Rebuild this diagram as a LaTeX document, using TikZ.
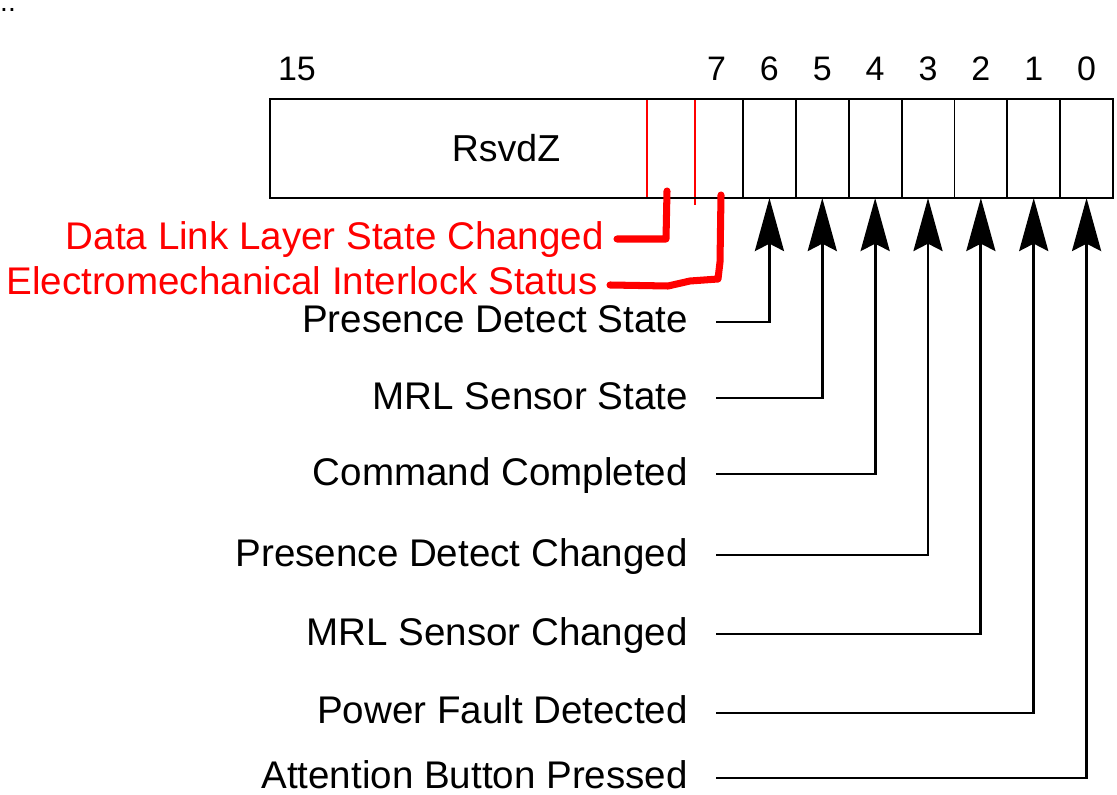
\documentclass[tikz,border=0pt]{standalone}
\usepackage{fontspec}
\setmainfont{Liberation Sans}
\usetikzlibrary{positioning,arrows.meta}

\begin{document}
\begin{tikzpicture}[
        x=0.03cm, y=-0.03cm,
        >={Stealth[length=1.59cm, width=0.87cm, inset=0.22cm]},
        sig/.style={->, line width=2.5pt},
        lbl/.style={anchor=base east, inner sep=0pt, font=\fontsize{32.9}{39}\selectfont},
        redlbl/.style={lbl, text=red},
        bitno/.style={inner sep=0pt, font=\fontsize{29}{34}\selectfont},
        hand/.style={red, line width=6pt, line cap=round, line join=round}
    ]
        \useasboundingbox (0,0) rectangle (1117,795);
        \node[anchor=base west, inner sep=0pt, font=\fontsize{24}{28}\selectfont] (dots) at (0,12) {..};

        % register outline and bit cells
        \coordinate (regnw) at (270,99);
        \coordinate (regse) at (1113,198);
        \foreach \i in {0,...,6} {
            \draw[line width=1.6pt] ({1113-(\i+1)*52.857},99) -- ({1113-(\i+1)*52.857},198);
            \coordinate (b\i) at ({1113-(\i+0.5)*52.857},198);
            \node[bitno] (n\i) at ({1113-(\i+0.5)*52.857},69) {\i};
        }
        \draw[red, line width=1pt] (647,99) -- (647,198);
        \draw[red, line width=1pt] (695,99) -- (695,205);
        \draw[line width=2.5pt] (regnw) rectangle (regse);
        \node[bitno] (n7) at (716.5,69) {7};
        \node[bitno] (n15) at (297,69) {15};
        \node[inner sep=0pt, font=\fontsize{32}{38}\selectfont] (rsvd) at (506,148) {RsvdZ};

        % red annotations
        \node[redlbl] (dll) at (604,250) {Data Link Layer State Changed};
        \node[redlbl] (eis) at (598,295) {Electromechanical Interlock Status};
        \coordinate (dllend) at (667,191);
        \coordinate (eisend) at (721,195);
        \draw[hand] ([xshift=0.39cm, yshift=0.33cm]dll.base east) -- (666,239) -- (dllend);
        \draw[hand] ([xshift=0.36cm, yshift=0.3cm]eis.base east) -- (668,286) -- (690,281) -- (718,279) -- (720,262) -- (eisend);

        % status bits
        \node[lbl] (pds) at (688,333) {Presence Detect State};
        \node[lbl] (mss) at (688,409) {MRL Sensor State};
        \node[lbl] (cc)  at (688,485) {Command Completed};
        \node[lbl] (pdc) at (688,566) {Presence Detect Changed};
        \node[lbl] (msc) at (688,645) {MRL Sensor Changed};
        \node[lbl] (pfd) at (688,723) {Power Fault Detected};
        \node[lbl] (abp) at (688,788) {Attention Button Pressed};

        \draw[sig] ([xshift=0.84cm, yshift=0.33cm]pds.base east) -| (b6);
        \draw[sig] ([xshift=0.84cm, yshift=0.33cm]mss.base east) -| (b5);
        \draw[sig] ([xshift=0.84cm, yshift=0.33cm]cc.base east)  -| (b4);
        \draw[sig] ([xshift=0.84cm, yshift=0.33cm]pdc.base east) -| (b3);
        \draw[sig] ([xshift=0.84cm, yshift=0.33cm]msc.base east) -| (b2);
        \draw[sig] ([xshift=0.84cm, yshift=0.3cm]pfd.base east) -| (b1);
        \draw[sig] ([xshift=0.84cm, yshift=0.3cm]abp.base east) -| (b0);
    \end{tikzpicture}
\end{document}
